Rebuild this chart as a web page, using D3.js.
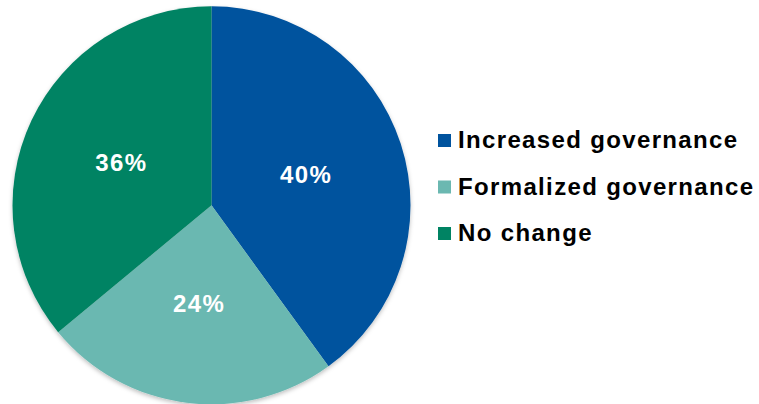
<!DOCTYPE html>
<html><head><meta charset="utf-8">
<script src="https://cdn.jsdelivr.net/npm/d3@7"></script>
<style>html,body{margin:0;padding:0;background:#fff;}svg{display:block;}</style>
</head><body>
<svg id="c" width="759" height="404"></svg>
<script>
const categories = ["Increased governance", "Formalized governance", "No change"];
const values = [40, 24, 36];
const labels = ["40%", "24%", "36%"];
const colors = ["#00539E", "#6BB8B1", "#008363"];

const svg = d3.select("#c");
const defs = svg.append("defs");
const f = defs.append("filter").attr("id","sh").attr("x","-10%").attr("y","-10%").attr("width","120%").attr("height","125%");
f.append("feDropShadow").attr("dx",0).attr("dy",2).attr("stdDeviation",2).attr("flood-color","#000").attr("flood-opacity",0.25);

const cx = 211.5, cy = 205.3, r = 199;
const pie = d3.pie().sort(null).value(d => d)(values);
const arc = d3.arc().innerRadius(0).outerRadius(r);
const g = svg.append("g").attr("transform", `translate(${cx},${cy})`);
g.append("g").attr("filter","url(#sh)").selectAll("path").data(pie).join("path")
  .attr("d", arc).attr("fill", (d,i) => colors[i]);

const labelArc = d3.arc().innerRadius(r*0.5).outerRadius(r*0.5);
g.selectAll("text").data(pie).join("text")
  .attr("transform", d => { const [x,y] = labelArc.centroid(d); return `translate(${x},${y})`; })
  .attr("text-anchor","middle").attr("dy","0.35em")
  .attr("font-family","Liberation Sans, Arial, sans-serif").attr("font-weight","bold")
  .attr("font-size",24).attr("letter-spacing","1.4px").attr("fill","#fff")
  .text((d,i) => labels[i]);

const ly = d3.scalePoint().domain(categories).range([148, 241]);
const lg = svg.append("g").selectAll("g").data(categories).join("g")
  .attr("transform", d => `translate(438,${ly(d)})`);
lg.append("rect").attr("x",0).attr("y",-14).attr("width",13).attr("height",13)
  .attr("fill",(d,i)=>colors[i]);
lg.append("text").attr("x",20).attr("y",0)
  .attr("font-family","Liberation Sans, Arial, sans-serif").attr("font-weight","bold")
  .attr("font-size",24).attr("letter-spacing","1.35px").attr("fill","#000").text(d=>d);
</script>
</body></html>
